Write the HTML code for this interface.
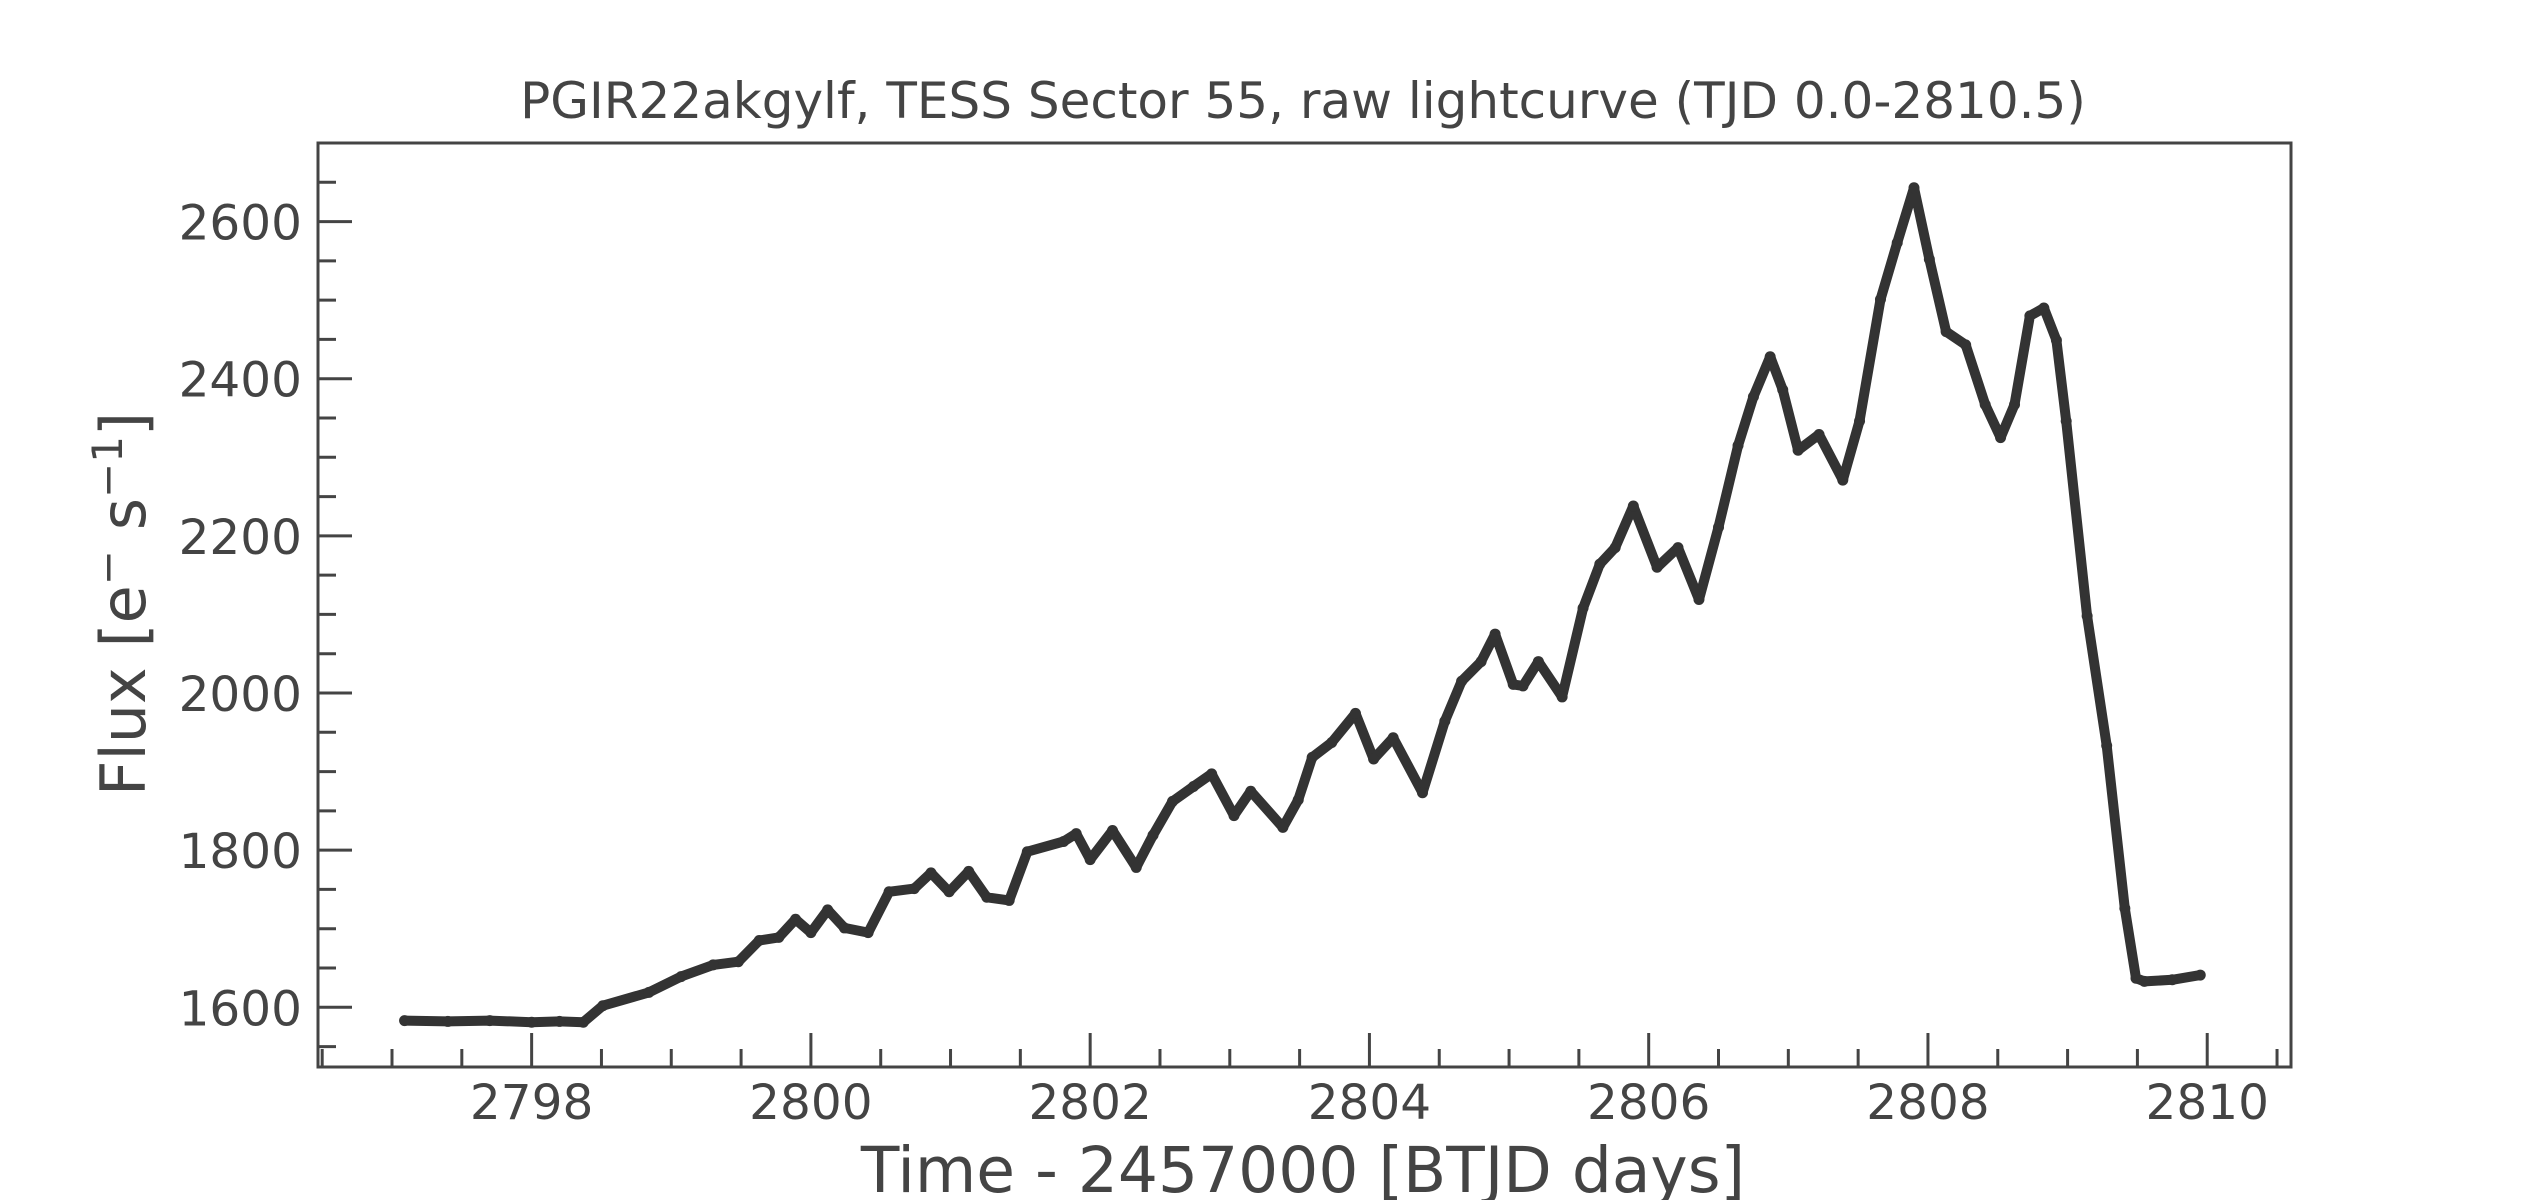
<!DOCTYPE html>
<html><head><meta charset="utf-8"><style>
html,body{margin:0;padding:0;background:#fff;}
svg{display:block;font-family:"DejaVu Sans","Liberation Sans",sans-serif;}
</style></head><body>
<svg id="chart" width="2545" height="1200" viewBox="0 0 2545 1200" xmlns="http://www.w3.org/2000/svg">
<rect width="2545" height="1200" fill="#fff"/>
<text x="1303" y="118" font-size="50" fill="#444" text-anchor="middle">PGIR22akgylf, TESS Sector 55, raw lightcurve (TJD 0.0-2810.5)</text>
<g id="ticks"></g>
<g id="marks"></g>
<rect x="318" y="143" width="1973" height="924" fill="none" stroke="#444" stroke-width="3"/>
<text transform="translate(145,604) rotate(-90)" font-size="62" fill="#444" text-anchor="middle">Flux [e<tspan font-size="42" dy="-23">−</tspan><tspan dy="23"> s</tspan><tspan font-size="42" dy="-23">−1</tspan><tspan dy="23">]</tspan></text>
<text x="1303" y="1192" font-size="63" fill="#444" text-anchor="middle">Time - 2457000 [BTJD days]</text>
</svg>
<script>
const times = [2797.09,2797.4,2797.7,2798.0,2798.2,2798.37,2798.51,2798.84,2799.07,2799.30,2799.48,2799.63,2799.77,2799.89,2800.0,2800.12,2800.24,2800.41,2800.56,2800.74,2800.86,2800.99,2801.13,2801.26,2801.42,2801.55,2801.81,2801.90,2802.0,2802.16,2802.33,2802.45,2802.59,2802.74,2802.87,2803.03,2803.15,2803.38,2803.49,2803.59,2803.73,2803.90,2804.03,2804.17,2804.38,2804.54,2804.66,2804.80,2804.90,2805.03,2805.10,2805.21,2805.38,2805.53,2805.65,2805.76,2805.89,2806.06,2806.21,2806.36,2806.50,2806.64,2806.75,2806.87,2806.96,2807.07,2807.22,2807.39,2807.51,2807.66,2807.78,2807.90,2808.01,2808.13,2808.27,2808.41,2808.52,2808.62,2808.73,2808.83,2808.92,2808.99,2809.14,2809.28,2809.41,2809.49,2809.55,2809.75,2809.95];
const fluxes = [1583,1582,1583,1581,1582,1581,1602,1619,1639,1654,1658,1685,1689,1712,1695,1724,1701,1695,1747,1751,1771,1747,1773,1740,1736,1798,1811,1821,1788,1825,1778,1819,1862,1881,1897,1844,1875,1829,1864,1918,1937,1974,1916,1943,1873,1964,2015,2040,2075,2011,2009,2040,1995,2108,2164,2185,2238,2160,2185,2119,2211,2315,2377,2428,2386,2309,2329,2271,2346,2501,2573,2643,2552,2460,2443,2367,2325,2367,2480,2490,2449,2346,2098,1933,1726,1637,1633,1635,1641];
const xMajorTicks = [2798,2800,2802,2804,2806,2808,2810];
const yMajorTicks = [1600,1800,2000,2200,2400,2600];

const X0=318,X1=2291,Y0=1067,Y1=143;
const TMIN=2796.47, TMAX=2810.6, FMIN=1524, FMAX=2700;
function xs(t){return X0+(t-TMIN)/(TMAX-TMIN)*(X1-X0);}
function ys(f){return Y0-(f-FMIN)/(FMAX-FMIN)*(Y0-Y1);}
const NS='http://www.w3.org/2000/svg';
const tg=document.getElementById('ticks'), mg=document.getElementById('marks');
function ln(x1,y1,x2,y2,name){const l=document.createElementNS(NS,'line');
l.setAttribute('x1',x1);l.setAttribute('y1',y1);l.setAttribute('x2',x2);l.setAttribute('y2',y2);
l.setAttribute('stroke','#444');l.setAttribute('stroke-width','3');


tg.appendChild(l);}
function tx(x,y,s,anchor,name){const t=document.createElementNS(NS,'text');
t.setAttribute('x',x);t.setAttribute('y',y);t.setAttribute('font-size','48.5');t.setAttribute('fill','#444');t.setAttribute('text-anchor',anchor);
t.textContent=s;


tg.appendChild(t);}
for(let t=2796.5;t<=2810.6;t+=0.5){ if(Math.abs(t-Math.round(t/2)*2)<1e-6) continue; const x=xs(t); ln(x,Y0,x,Y0-18,'x-minor-tick');}
xMajorTicks.forEach(t=>{const x=xs(t); ln(x,Y0,x,Y0-34,'x-major-tick'); tx(x,1119,String(t),'middle','x-tick-label');});
for(let f=1550;f<=2700;f+=50){ if(f%200===0) continue; const y=ys(f); ln(X0,y,X0+18,y,'y-minor-tick');}
yMajorTicks.forEach(f=>{const y=ys(f); ln(X0,y,X0+34,y,'y-major-tick'); tx(302,y+18,String(f),'end','y-tick-label');});
let d='';
times.forEach((t,i)=>{d+=(i?'L':'M')+xs(t).toFixed(1)+' '+ys(fluxes[i]).toFixed(1);});
const p=document.createElementNS(NS,'path');
p.setAttribute('d',d);p.setAttribute('fill','none');p.setAttribute('stroke','#333');p.setAttribute('stroke-width','10');p.setAttribute('stroke-linejoin','round');p.setAttribute('stroke-linecap','round');


mg.appendChild(p);
times.forEach((t,i)=>{const c=document.createElementNS(NS,'circle');
c.setAttribute('cx',xs(t));c.setAttribute('cy',ys(fluxes[i]));c.setAttribute('r','5.5');c.setAttribute('fill','#333');


mg.appendChild(c);});
</script>
</body></html>
